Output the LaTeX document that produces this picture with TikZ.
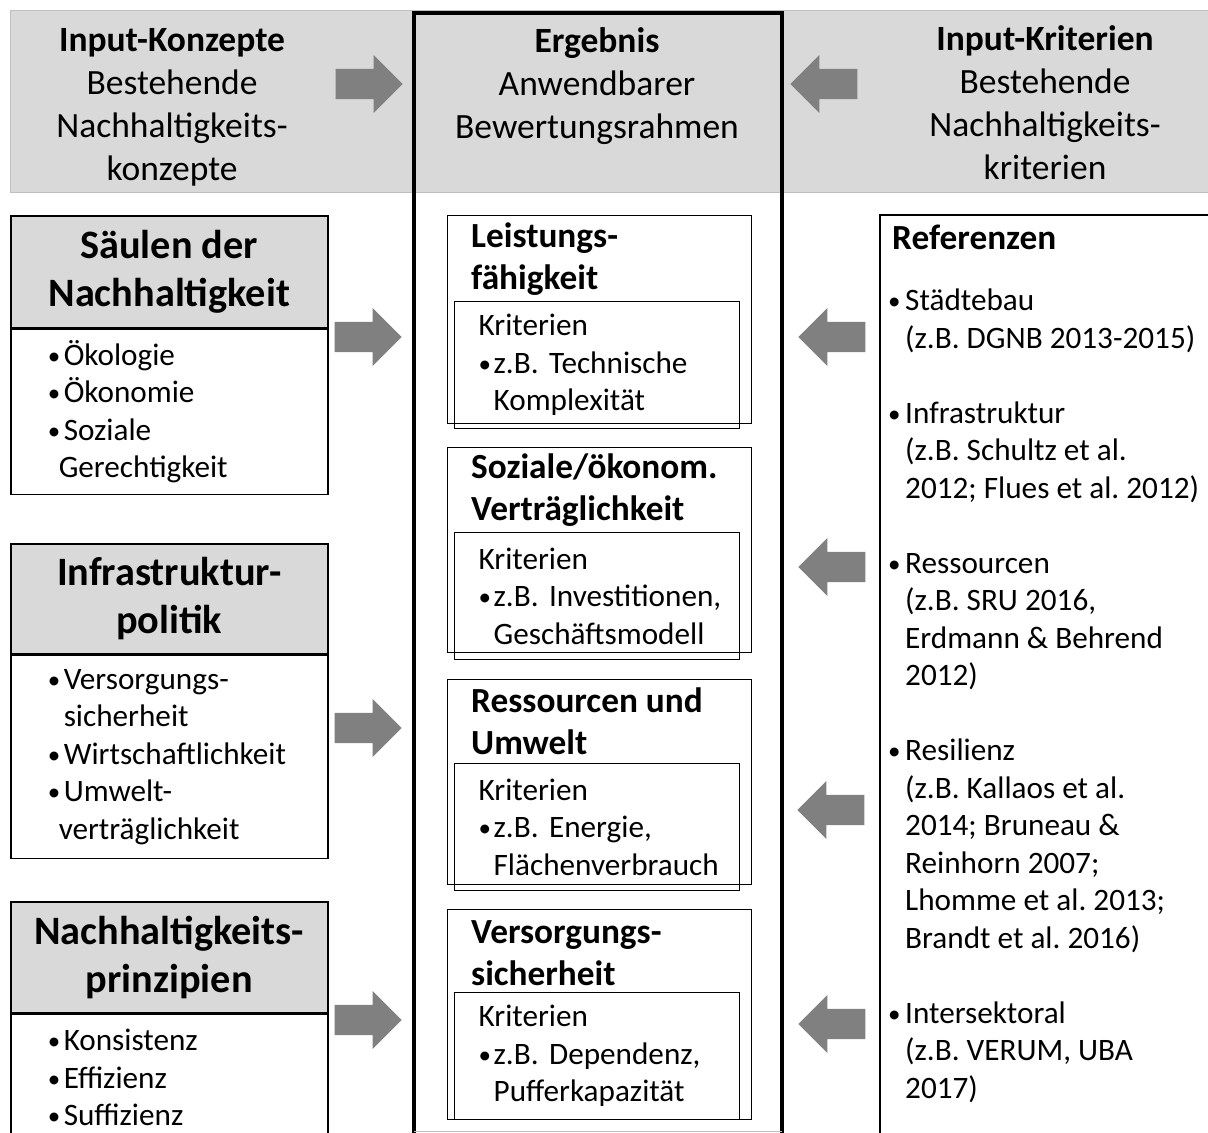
\documentclass[tikz,border=0pt]{standalone}
\usepackage{fontspec}
\setmainfont{Carlito}
\usetikzlibrary{shapes.arrows,positioning}
\definecolor{HdrGray}{HTML}{D9D9D9}
\definecolor{ArrowGray}{HTML}{808080}
\definecolor{BandLine}{HTML}{BFBFBF}
\hyphenpenalty=10000
\exhyphenpenalty=10000
\frenchspacing
\newcommand{\hdrfont}{\fontsize{35.5}{43}\selectfont}
\newcommand{\pillarfont}{\fontsize{40.3}{48}\selectfont\bfseries}
\newcommand{\listfont}{\fontsize{31.2}{37.5}\selectfont}
\newcommand{\critfont}{\fontsize{35.3}{42}\selectfont\bfseries}
\newcommand{\dotmark}{\raisebox{1pt}{\fontsize{25}{25}\selectfont •}}
\newcommand{\bul}{\makebox[16pt][l]{\dotmark}}
\newcommand{\cbul}{\makebox[15pt][l]{\dotmark}}
\newcommand{\rbul}{\makebox[17pt][l]{\dotmark}}
\tikzset{
    % Header band
    hdrband/.style={
        draw=BandLine,
        fill=HdrGray,
        line width=1pt
    },
    hdrtext/.style={
        align=center,
        inner sep=0pt,
        font=\hdrfont
    },
    % Middle frame
    resultframe/.style={
        draw=black,
        line width=4pt
    },
    % Block arrows
    blockarrow/.style={
        single arrow,
        fill=ArrowGray,
        draw=none,
        inner xsep=0pt,
        inner ysep=15pt,
        minimum height=67pt,
        minimum width=58pt,
        single arrow head extend=14pt
    },
    % Left column boxes
    pillarhead/.style={
        draw=black,
        fill=HdrGray,
        line width=1.5pt,
        minimum width=317pt,
        align=center,
        font=\pillarfont
    },
    pillarlist/.style={
        draw=black,
        fill=white,
        line width=1.5pt,
        minimum width=317pt,
        text width=243pt,
        align=left,
        font=\listfont
    },
    % Middle column boxes
    critouter/.style={
        draw=black,
        line width=1.3pt,
        minimum width=304pt
    },
    crittitle/.style={
        align=left,
        inner sep=0pt,
        font=\critfont
    },
    critinner/.style={
        draw=black,
        line width=1.3pt,
        minimum width=285pt,
        minimum height=127pt,
        text width=237pt,
        align=left,
        font=\listfont
    },
    % Right column
    refbox/.style={
        draw=black,
        line width=1.5pt
    },
    reftext/.style={
        align=left,
        inner sep=0pt,
        font=\listfont
    }
}
\begin{document}
\begin{tikzpicture}[x=1pt, y=-1pt]
    \useasboundingbox (0,0) rectangle (1208,1133);

    % header
    \node[hdrband, anchor=north west, minimum width=1210pt, minimum height=182pt] (band) at (10,10) {};
    \node[hdrtext] (konzT) at (172,107.5) {\textbf{Input-Konzepte}\\Bestehende\\Nachhaltigkeits-\\konzepte};
    \node[hdrtext] (ergT) at (597,86) {\textbf{Ergebnis}\\Anwendbarer\\Bewertungsrahmen};
    \node[hdrtext] (kritT) at (1045,103) {\textbf{Input-Kriterien}\\Bestehende\\Nachhaltigkeits-\\kriterien};
    \node[blockarrow, anchor=tip] (aKonz) at (403,84) {};
    \node[blockarrow, shape border rotate=180, anchor=tip] (aKrit) at (790,84) {};

    % left column
    \node[pillarhead, minimum height=112pt, anchor=north west] (saeulenH) at (10,215) {Säulen der\\Nachhaltigkeit};
    \node[pillarlist, minimum height=165pt, anchor=north] (saeulenL) at (saeulenH.south) {\bul Ökologie\\\bul Ökonomie\\\bul Soziale\\\hspace*{11pt}Gerechtigkeit};
    \node[pillarhead, minimum height=110pt, anchor=north west] (infraH) at (10,543) {Infrastruktur-\\politik};
    \node[pillarlist, minimum height=203pt, anchor=north] (infraL) at (infraH.south) {\bul Versorgungs-\\\hspace*{16pt}sicherheit\\\bul Wirtschaftlichkeit\\\bul Umwelt-\\\hspace*{11pt}verträglichkeit};
    \node[pillarhead, minimum height=111pt, anchor=north west] (prinzH) at (10,901) {Nachhaltigkeits-\\prinzipien};
    \node[pillarlist, minimum height=127pt, anchor=north] (prinzL) at (prinzH.south) {\bul Konsistenz\\\bul Effizienz\\\bul Suffizienz};

    \node[blockarrow, anchor=tip] (aSaeulen) at (402,337) {};
    \node[blockarrow, anchor=tip] (aInfra) at (402,728) {};
    \node[blockarrow, anchor=tip] (aPrinz) at (402,1020) {};

    % middle column
    \node[critouter, minimum height=208pt, anchor=north west] (leist) at (447,215) {};
    \node[crittitle, anchor=west] (leistT) at (471,259) {Leistungs-\\fähigkeit};
    \node[critinner, anchor=north west] (leistK) at (454,301) {Kriterien\\\cbul\mbox{z.B. Technische}\\\hspace*{15pt}Komplexität};

    \node[critouter, minimum height=205pt, anchor=north west] (sozial) at (447,447) {};
    \node[crittitle, anchor=west] (sozialT) at (471,490) {Soziale/ökonom.\\Verträglichkeit};
    \node[critinner, anchor=north west] (sozialK) at (454,532) {Kriterien\\\cbul\mbox{z.B. Investitionen,}\\\hspace*{15pt}Geschäftsmodell};

    \node[critouter, minimum height=205pt, anchor=north west] (ressU) at (447,679) {};
    \node[crittitle, anchor=west] (ressUT) at (471,721.5) {\mbox{Ressourcen und}\\Umwelt};
    \node[critinner, anchor=north west] (ressUK) at (454,763) {Kriterien\\\cbul\mbox{z.B. Energie,}\\\hspace*{15pt}Flächenverbrauch};

    \node[critouter, minimum height=210pt, anchor=north west] (versorg) at (447,909) {};
    \node[crittitle, anchor=west] (versorgT) at (471,953) {Versorgungs-\\sicherheit};
    \node[critinner, anchor=north west] (versorgK) at (454,992) {Kriterien\\\cbul\mbox{z.B. Dependenz,}\\\hspace*{15pt}Pufferkapazität};

    \node[resultframe, anchor=north west, minimum width=368pt, minimum height=1150pt] (frame) at (412,11) {};
    \draw[BandLine, line width=1pt] ([xshift=2pt]frame.west |- 0,1131.5) -- ([xshift=-2pt]frame.east |- 0,1131.5);

    % right column
    \node[refbox, anchor=north west, minimum width=360pt, minimum height=960pt] (ref) at (879,214) {};
    \node[crittitle, anchor=west] (refT) at (892,237) {Referenzen};
    \node[reftext, anchor=west] (refL) at (888,696) {\rbul Städtebau\\\hspace*{17pt}(z.B. DGNB 2013-2015)\\[37.5pt]
        \rbul Infrastruktur\\\hspace*{17pt}(z.B. Schultz et al.\\\hspace*{17pt}2012; Flues et al. 2012)\\[37.5pt]
        \rbul Ressourcen\\\hspace*{17pt}(z.B. SRU 2016,\\\hspace*{17pt}Erdmann \& Behrend\\\hspace*{17pt}2012)\\[37.5pt]
        \rbul Resilienz\\\hspace*{17pt}(z.B. Kallaos et al.\\\hspace*{17pt}2014; Bruneau \&\\\hspace*{17pt}Reinhorn 2007;\\\hspace*{17pt}Lhomme et al. 2013;\\\hspace*{17pt}Brandt et al. 2016)\\[37.5pt]
        \rbul Intersektoral\\\hspace*{17pt}(z.B. VERUM, UBA\\\hspace*{17pt}2017)};

    \node[blockarrow, shape border rotate=180, anchor=tip] (aStadt) at (798,337) {};
    \node[blockarrow, shape border rotate=180, anchor=tip] (aRess) at (798,567) {};
    \node[blockarrow, shape border rotate=180, anchor=tip] (aResil) at (797,810) {};
    \node[blockarrow, shape border rotate=180, anchor=tip] (aInter) at (798,1024) {};
\end{tikzpicture}
\end{document}
